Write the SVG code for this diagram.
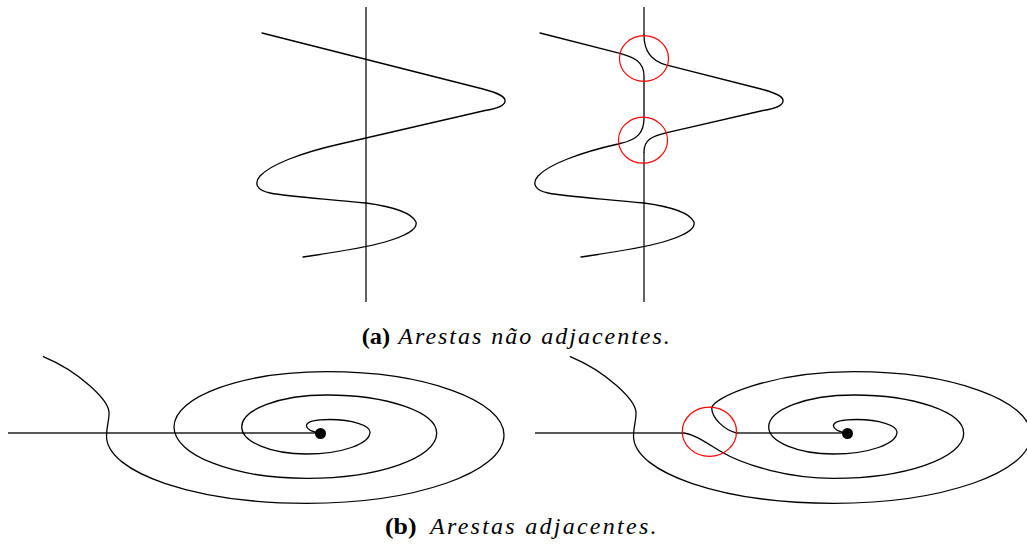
<svg xmlns="http://www.w3.org/2000/svg" width="1027" height="549" viewBox="0 0 1027 549">
<style>
.curve{fill:none;stroke:#000;stroke-width:1.3;stroke-linecap:round;stroke-linejoin:round}
.line{fill:none;stroke:#222;stroke-width:1.4}
.mark{fill:none;stroke:#f00;stroke-width:1.2}
.vtx{fill:#000}
.capb{font-family:"Liberation Serif","Times New Roman",serif;font-weight:bold;font-size:24px;fill:#000}
.capi{font-family:"Liberation Serif","Times New Roman",serif;font-style:italic;font-size:24px;fill:#000}
</style>
<rect width="1027" height="549" fill="#fff"/>

<g id="a-left">
  <line class="line" x1="366" y1="7" x2="366" y2="302"/>
  <path class="curve" d="M262,33 L483,89 C500,93.5 506,97 505,101.5 C504,106 495,109 485,110.5 L340,144 C300,153 270,165 260,176 C254,183 256,190 270,193 C290,197 330,199 366,203 C395,207 412,213 416,222 C418,230 405,236 385,242 C360,249 330,253 303,257"/>
</g>

<g id="a-right">
  <line class="line" x1="644" y1="7" x2="644" y2="35"/>
  <line class="line" x1="644" y1="152" x2="644" y2="302"/>
  <path class="curve" d="M540,33 L620,53.3 C634,57 644,62 644,76 L644,118 C644,132 638,140 620,143.5 L618,144 C578,153 548,165 538,176 C532,183 534,190 548,193 C568,197 608,199 644,203 C673,207 690,213 694,222 C696,230 683,236 663,242 C638,249 608,253 581,257"/>
  <path class="curve" d="M644,35 C644,52 652,61 666,64.9 L761,89 C778,93.5 784,97 783,101.5 C782,106 773,109 763,110.5 L667,132.6 C652,136 644,140 644,152"/>
  <ellipse class="mark" cx="644" cy="58.5" rx="24.5" ry="22.8"/>
  <ellipse class="mark" cx="643" cy="140.2" rx="24.5" ry="23"/>
</g>

<g id="caption-a">
  <text class="capb" x="361.7" y="344" textLength="28.5" lengthAdjust="spacingAndGlyphs">(a)</text>
  <text class="capi" x="398.3" y="344" textLength="271.5" lengthAdjust="spacing">Arestas não adjacentes.</text>
</g>

<g id="b-left">
  <line class="line" x1="8" y1="433" x2="320" y2="433"/>
  <path class="curve" d="M320.5,433.5 C314,432 306,429 306.5,425.5 C307,421 318,419.5 330,419.5 C352,419.5 370,425.4 370,432 C370,444 341.5,454 306.7,454 C271,454 241.7,441.9 241.7,427 C241.7,409.4 280,395 326.7,395 C387.2,395 436.7,412.2 436.7,433.3 C436.7,458 378.2,478.3 306.7,478.3 C233.7,478.3 174,455.2 174,427 C174,396.6 242.7,371.7 326.7,371.7 C424.2,371.7 504,400.2 504,435 C504,472.6 415.2,503.3 306.7,503.3 C196.7,503.3 106.5,473 106.5,436 C106.5,426 109.5,420 109,412 C108,400 80,372 43.3,356.7"/>
  <circle class="vtx" cx="320.5" cy="433.5" r="5.5"/>
</g>

<g id="b-right">
  <line class="line" x1="535" y1="433" x2="682.3" y2="433"/>
  <line class="line" x1="736.7" y1="433" x2="847" y2="433"/>
  <path class="curve" d="M847.5,433.5 C841,432 833,429 833.5,425.5 C834,421 845,419.5 857,419.5 C879,419.5 897,425.4 897,432 C897,444 868.5,454 833.7,454 C798,454 768.7,441.9 768.7,427 C768.7,409.4 807,395 853.7,395 C914.2,395 963.7,412.2 963.7,433.3 C963.7,458 905.2,478.3 833.7,478.3 C790,478.3 745,466 720,451 C705,442 692,433 682.3,433"/>
  <path class="curve" d="M736.7,433 C724,430 712,418 711.7,408 C712.5,398 770,371.7 853.7,371.7 C951.2,371.7 1031,400.2 1031,435 C1031,472.6 942.2,503.3 833.7,503.3 C723.7,503.3 633.5,473 633.5,436 C633.5,426 636.5,420 636,412 C635,400 607,372 570.3,356.7"/>
  <circle class="vtx" cx="847.5" cy="433.5" r="5.5"/>
  <ellipse class="mark" cx="709.4" cy="431.7" rx="27.1" ry="24.6"/>
</g>

<g id="caption-b">
  <text class="capb" x="385" y="533.5" textLength="31.5" lengthAdjust="spacingAndGlyphs">(b)</text>
  <text class="capi" x="430" y="533.5" textLength="226.5" lengthAdjust="spacing">Arestas adjacentes.</text>
</g>
</svg>
